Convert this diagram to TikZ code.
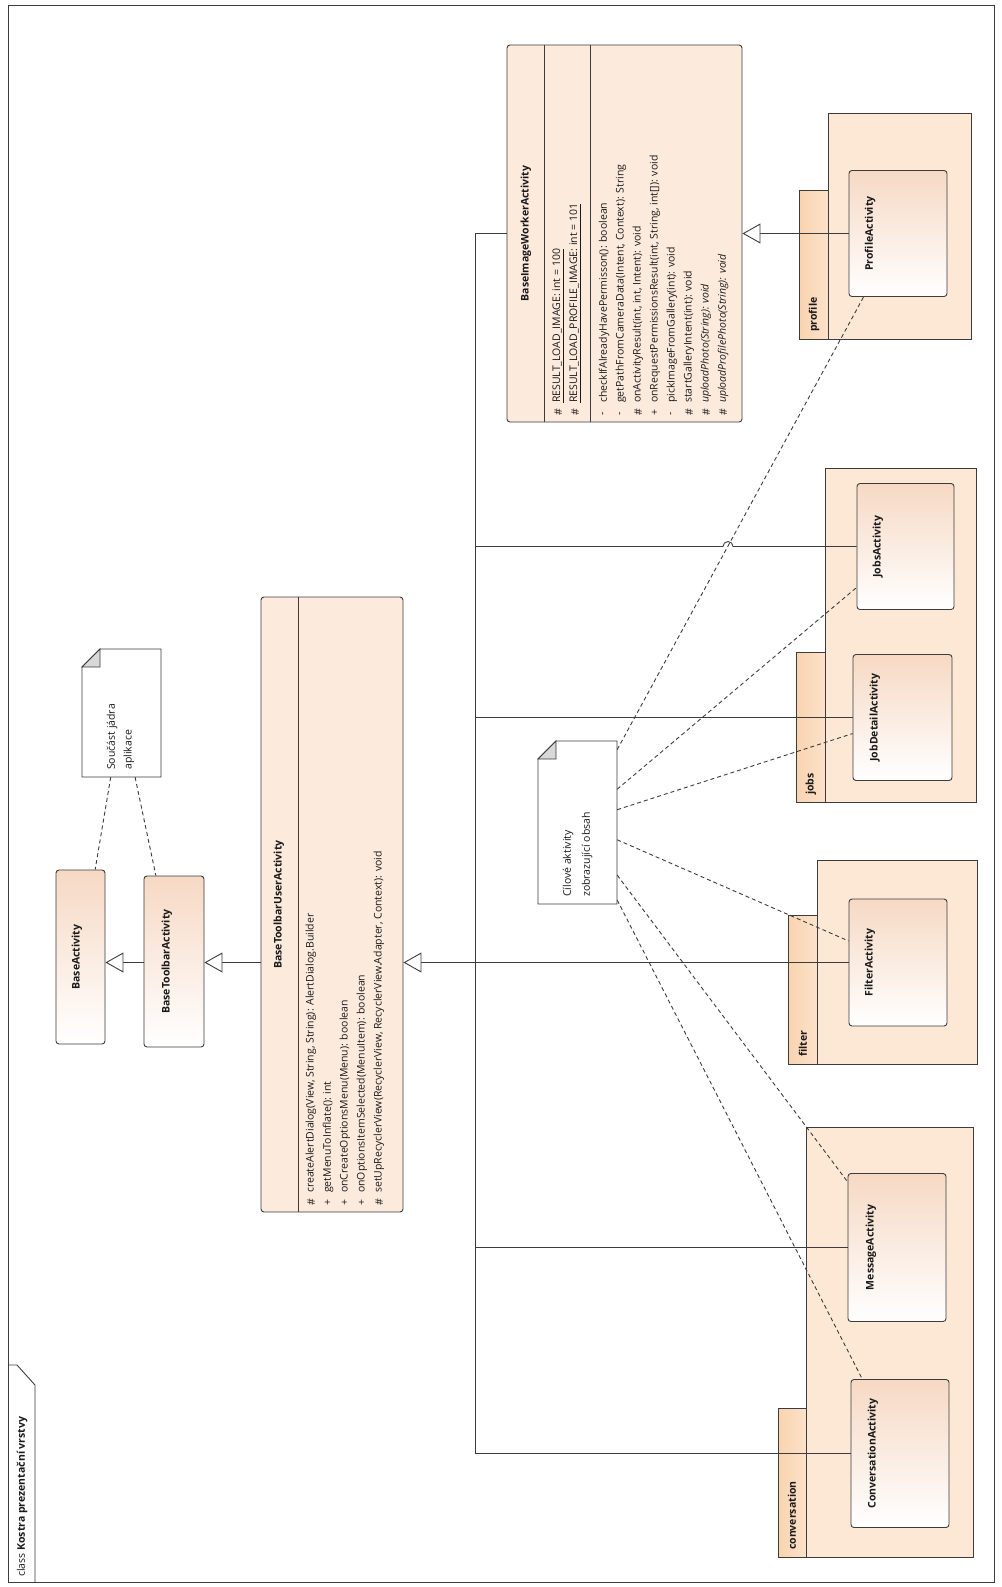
\documentclass[tikz,border=0pt]{standalone}
\usepackage{fontspec}
\setmainfont{Open Sans}
\usetikzlibrary{arrows.meta}
\definecolor{edgec}{HTML}{3C3C3C}
\definecolor{clsTop}{HTML}{F6D9C4}
\definecolor{clsBig}{HTML}{FCEADD}
\definecolor{pkgBody}{HTML}{FDE8D6}
\definecolor{pkgTab}{HTML}{F9D3AF}
\definecolor{foldc}{HTML}{D8D8D8}
\definecolor{txtc}{HTML}{1A1A1A}
\newcommand{\memfont}{\fontsize{10.5}{12}\selectfont}
\newcommand{\namefont}{\bfseries\fontsize{10.5}{12}\selectfont}
\begin{document}
\begin{tikzpicture}[x=1pt,y=-1pt,
  lw/.style={line width=0.9pt, draw=edgec},
  mem/.style={inner sep=0pt, rotate=90, anchor=west, font=\memfont, text=txtc},
  clsname/.style={inner sep=0pt, rotate=90, font=\namefont, text=txtc},
  smallcls/.style={lw, rounded corners=3pt, top color=clsTop, bottom color=white, inner sep=0pt},
  bigcls/.style={lw, rounded corners=3pt, fill=clsBig, inner sep=0pt},
  pkg/.style={lw, fill=pkgBody},
  pkgtab/.style={lw, left color=pkgTab, right color=pkgBody!70!pkgTab},
  notebox/.style={inner sep=0pt, draw=none},
  dsh/.style={lw, dash pattern=on 4pt off 3pt},
  gen/.style={lw, -{Triangle[length=18pt, width=20pt, fill=white, line width=0.9pt]}},
  conn/.style={lw}
]
\useasboundingbox (0,0) rectangle (1001,1587);
\fill[white] (0,0) rectangle (1001,1587);

% ---- frame
\draw[lw] (8,5) rectangle (994,1582);
\draw[lw] (8,1365) -- (17,1365) -- (35,1385) -- (35,1582);
\node[mem] (framelbl) at (22,1577) {class \textbf{Kostra prezentační vrstvy}};

% ---- packages
\draw[pkg] (828,113) rectangle (971,339);
\draw[pkgtab] (799,190) rectangle (828,339);
\node[mem, font=\namefont] (pkgprofile) at (814,332) {profile};

\draw[pkg] (825,468) rectangle (976,802);
\draw[pkgtab] (796,652) rectangle (825,802);
\node[mem, font=\namefont] (pkgjobs) at (811,795) {jobs};

\draw[pkg] (817,860) rectangle (977,1064);
\draw[pkgtab] (788,915) rectangle (817,1064);
\node[mem, font=\namefont] (pkgfilter) at (803,1057) {filter};

\draw[pkg] (806,1127) rectangle (973,1557);
\draw[pkgtab] (778,1408) rectangle (806,1557);
\node[mem, font=\namefont] (pkgconv) at (792,1550) {conversation};

% ---- small classes
\node[smallcls, minimum width=49pt, minimum height=174pt] (baseA) at (80.5,957) {};
\node[clsname] (baseAn) at (77,957) {BaseActivity};
\node[smallcls, minimum width=60pt, minimum height=171pt] (btA) at (174,961.5) {};
\node[clsname] (btAn) at (167,961.5) {BaseToolbarActivity};

\node[smallcls, minimum width=98pt, minimum height=126pt] (profA) at (898,233.5) {};
\node[clsname] (profAn) at (870,233.5) {ProfileActivity};
\node[smallcls, minimum width=97pt, minimum height=126pt] (jobsA) at (905.5,546.5) {};
\node[clsname] (jobsAn) at (878,546.5) {JobsActivity};
\node[smallcls, minimum width=99pt, minimum height=126pt] (jdA) at (902.5,717.5) {};
\node[clsname] (jdAn) at (875,717.5) {JobDetailActivity};
\node[smallcls, minimum width=98pt, minimum height=127pt] (filtA) at (898,962.5) {};
\node[clsname] (filtAn) at (870,962.5) {FilterActivity};
\node[smallcls, minimum width=98pt, minimum height=148pt] (msgA) at (897,1247.5) {};
\node[clsname] (msgAn) at (871,1247.5) {MessageActivity};
\node[smallcls, minimum width=98pt, minimum height=148pt] (convA) at (900,1453.5) {};
\node[clsname] (convAn) at (873,1453.5) {ConversationActivity};

% ---- BaseToolbarUserActivity
\node[bigcls, minimum width=142pt, minimum height=615pt] (btuA) at (332,904.5) {};
\draw[lw] (298,597) -- (298,1212);
\node[clsname] (btuAn) at (279,904.5) {BaseToolbarUserActivity};
\node[mem] (btuv1) at (311,1206) {\#};
\node[mem] (btuo1) at (311,1193) {createAlertDialog(View, String, String): AlertDialog.Builder};
\node[mem] (btuv2) at (328,1206) {+};
\node[mem] (btuo2) at (328,1193) {getMenuToInflate(): int};
\node[mem] (btuv3) at (345,1206) {+};
\node[mem] (btuo3) at (345,1193) {onCreateOptionsMenu(Menu): boolean};
\node[mem] (btuv4) at (362,1206) {+};
\node[mem] (btuo4) at (362,1193) {onOptionsItemSelected(MenuItem): boolean};
\node[mem] (btuv5) at (379,1206) {\#};
\node[mem] (btuo5) at (379,1193) {setUpRecyclerView(RecyclerView, RecyclerView.Adapter, Context): void};

% ---- BaseImageWorkerActivity
\node[bigcls, minimum width=235pt, minimum height=377pt] (biwA) at (624.5,233.5) {};
\draw[lw] (544,45) -- (544,422);
\draw[lw] (590,45) -- (590,422);
\node[clsname] (biwAn) at (526,233.5) {BaseImageWorkerActivity};
\node[mem] (biwv1) at (558,416) {\#};
\node[mem] (biwa1) at (558,403) {\underline{RESULT\_LOAD\_IMAGE: int = 100}};
\node[mem] (biwv2) at (575,416) {\#};
\node[mem] (biwa2) at (575,403) {\underline{RESULT\_LOAD\_PROFILE\_IMAGE: int = 101}};
\node[mem] (biwv3) at (604,416) {-};
\node[mem] (biwo1) at (604,403) {checkIfAlreadyHavePermisson(): boolean};
\node[mem] (biwv4) at (621,416) {-};
\node[mem] (biwo2) at (621,403) {getPathFromCameraData(Intent, Context): String};
\node[mem] (biwv5) at (638,416) {\#};
\node[mem] (biwo3) at (638,403) {onActivityResult(int, int, Intent): void};
\node[mem] (biwv6) at (655,416) {+};
\node[mem] (biwo4) at (655,403) {onRequestPermissionsResult(int, String, int[]): void};
\node[mem] (biwv7) at (672,416) {-};
\node[mem] (biwo5) at (672,403) {pickImageFromGallery(int): void};
\node[mem] (biwv8) at (689,416) {\#};
\node[mem] (biwo6) at (689,403) {startGalleryIntent(int): void};
\node[mem] (biwv9) at (706,416) {\#};
\node[mem] (biwo7) at (706,403) {\itshape uploadPhoto(String): void};
\node[mem] (biwv10) at (723,416) {\#};
\node[mem] (biwo8) at (723,403) {\itshape uploadProfilePhoto(String): void};

% ---- notes
\node[notebox, minimum width=79pt, minimum height=128pt] (note1) at (121.5,713) {};
\draw[lw, fill=white] (82,667) -- (100,649) -- (161,649) -- (161,777) -- (82,777) -- cycle;
\draw[lw, fill=foldc] (82,667) -- (100,649) -- (100,667) -- cycle;
\node[mem] (note1t1) at (112,770) {Součást jádra};
\node[mem] (note1t2) at (129,770) {aplikace};

\node[notebox, minimum width=79pt, minimum height=163pt] (note2) at (577.5,822.5) {};
\draw[lw, fill=white] (538,759) -- (556,741) -- (617,741) -- (617,904) -- (538,904) -- cycle;
\draw[lw, fill=foldc] (538,759) -- (556,741) -- (556,759) -- cycle;
\node[mem] (note2t1) at (568,897) {Cílové aktivity};
\node[mem] (note2t2) at (587,897) {zobrazující obsah};

% ---- note links
\draw[dsh] (note1) -- (baseA);
\draw[dsh] (note1) -- (btA);
\draw[dsh] (note2) -- (profA);
\draw[dsh] (note2) -- (jobsA);
\draw[dsh] (note2) -- (jdA);
\draw[dsh] (note2) -- (filtA);
\draw[dsh] (note2) -- (msgA);
\draw[dsh] (note2) -- (convA);

% ---- generalizations
\coordinate (busx) at (475.5,0);
\draw[gen] (btA.west |- 0,962.5) -- (baseA.east |- 0,962.5);
\draw[gen] (btuA.west |- 0,962.5) -- (btA.east |- 0,962.5);
\draw[gen] (profA.west) -- (biwA.east |- profA.west);
\draw[gen] (filtA.west) -- (btuA.east |- filtA.west);
\draw[conn] (biwA.west) -- (biwA.west -| busx) -- (convA.west -| busx) -- (convA.west);
\draw[conn] (msgA.west) -- (msgA.west -| busx);
\draw[conn] (jdA.west) -- (jdA.west -| busx);
\draw[conn] (jobsA.west) -- (733,546.5) arc[start angle=0, end angle=-180, radius=5] -- (jobsA.west -| busx);
\end{tikzpicture}
\end{document}
